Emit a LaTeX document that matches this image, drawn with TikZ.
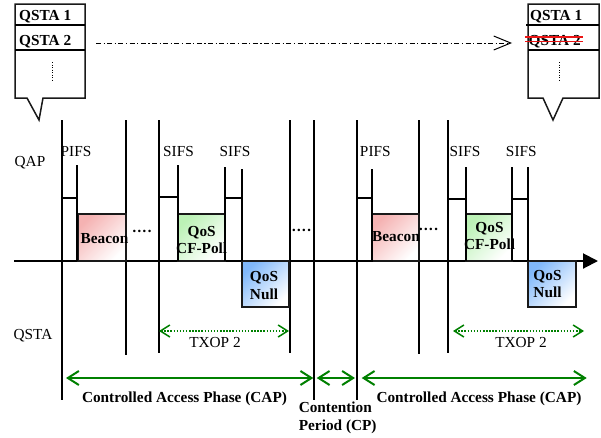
\documentclass[tikz,border=0pt]{standalone}
\usepackage{fontspec}
\setmainfont{Liberation Serif}
\usetikzlibrary{arrows.meta}
\definecolor{capgreen}{RGB}{0,128,0}
\definecolor{beaconred}{RGB}{245,178,178}
\definecolor{pollgreen}{RGB}{188,242,182}
\definecolor{nullblue}{RGB}{128,184,250}
\definecolor{strikered}{RGB}{235,20,20}
\begin{document}
\begin{tikzpicture}[x=1pt,y=-1pt,
  font=\fontsize{15.3}{18}\selectfont,
  tl/.style={line width=1.8pt,black},
  frame/.style={draw=black!90,line width=1.5pt},
  lbl/.style={inner sep=0pt,anchor=base},
  blbl/.style={lbl,font=\fontsize{15.3}{18}\selectfont\bfseries},
  framebox/.style={frame,anchor=north west,inner sep=0pt,outer sep=0pt},
  fillred/.style={shade,top color=beaconred,bottom color=white,shading angle=45},
  fillgreen/.style={shade,top color=pollgreen,bottom color=white,shading angle=45},
  fillblue/.style={shade,top color=nullblue,bottom color=white,shading angle=45},
  phase/.style={capgreen,line width=2pt,
    {Straight Barb[length=11pt,width=14pt]}-{Straight Barb[length=11pt,width=14pt]}},
  txop/.style={capgreen,line width=1.5pt,dash pattern=on 1.5pt off 1.6pt,
    {Straight Barb[length=9.5pt,width=12pt]}-{Straight Barb[length=9.5pt,width=12pt]}},
  tick/.style={line width=1.8pt,black},
]
\useasboundingbox (0,0) rectangle (601,437);
\fill[white] (0,0) rectangle (601,437);

% ---------- station tables (callouts) ----------
\draw[frame] (15,4) -- (85,4) -- (85,98) -- (43,98) -- (39,120) -- (27,98) -- (15,98) -- cycle;
\draw[line width=1.3pt] (15,25) -- (85,25);
\draw[line width=2pt] (15,50) -- (85,50);
\node[blbl,anchor=base west] (qa1) at (19,20) {QSTA 1};
\node[blbl,anchor=base west] (qa2) at (19,45) {QSTA 2};
\draw[line width=1pt,dash pattern=on 1pt off 1.5pt] (52,62) -- (52,82);

\draw[frame] (528,4) -- (599,4) -- (599,98) -- (563,98) -- (553,120) -- (543,98) -- (528,98) -- cycle;
\draw[line width=1.3pt] (526,25) -- (599,25);
\draw[line width=2pt] (528,50) -- (599,50);
\node[blbl,anchor=base west] (qb1) at (530,20) {QSTA 1};
\node[blbl,anchor=base west] (qb2) at (528.5,45) {QSTA 2};
\draw[strikered,line width=1.5pt] (525,37.2) -- (583,37.2);
\draw[strikered,line width=1.5pt] (525,41.4) -- (583,41.4);
\draw[line width=1pt,dash pattern=on 1pt off 1.5pt] (559,62) -- (559,82);

\coordinate (fwd-s) at (96,43);
\coordinate (fwd-e) at (512,43);
\draw[line width=0.9pt,dash pattern=on 5pt off 2.5pt on 1.2pt off 2.5pt,
  -{Straight Barb[length=17pt,width=14pt,line width=1pt]}] (fwd-s) -- (fwd-e);

% ---------- row labels ----------
\node[lbl] (qap) at (30,166) {QAP};
\node[lbl] (qsta) at (33,339) {QSTA};

% ---------- time axis ----------
\coordinate (ax-s) at (14,261);
\coordinate (ax-e) at (598,261);
\draw[line width=2pt,-{Triangle[length=15pt,width=15pt]}] (ax-s) -- (ax-e);

% ---------- long boundary lines ----------
\foreach \x/\yb in {62/400,126/355,159/353,290/353,314/400,357/400,419/354,448/353}
  \draw[tl] (\x,120) -- (\x,\yb);

% ---------- frames ----------
\node[framebox,fillred,minimum width=48pt,minimum height=47pt] (bcn1) at (78,214) {};
\node[framebox,fillgreen,minimum width=47pt,minimum height=47pt] (poll1) at (178,214) {};
\node[framebox,fillblue,minimum width=47pt,minimum height=46pt] (null1) at (242,261) {};
\node[framebox,fillred,minimum width=47pt,minimum height=47pt] (bcn2) at (372,214) {};
\node[framebox,fillgreen,minimum width=46pt,minimum height=47pt] (poll2) at (466,214) {};
\node[framebox,fillblue,minimum width=48pt,minimum height=46pt] (null2) at (528,261) {};

% ---------- interframe spaces ----------
\draw[tick] (62,198) -- (77,198) (77,165) -- (77,261);
\draw[tick] (159,197) -- (178,197) (178,165) -- (178,261);
\draw[tick] (225,167) -- (225,261) (225,198) -- (242,198) (242,169) -- (242,261);
\draw[tick] (357,198) -- (372,198) (372,169) -- (372,262);
\draw[tick] (448,199) -- (466,199) (466,167) -- (466,261);
\draw[tick] (512,167) -- (512,261) (512,199) -- (528,199) (528,167) -- (528,261);

\node[lbl] (pifs1) at (76,156) {PIFS};
\node[lbl] (sifs1) at (178.5,156) {SIFS};
\node[lbl] (sifs2) at (235,156) {SIFS};
\node[lbl] (pifs2) at (375.3,156) {PIFS};
\node[lbl] (sifs3) at (465,156) {SIFS};
\node[lbl] (sifs4) at (521.3,156) {SIFS};

% ---------- frame labels ----------
\node[blbl] (tb1) at (104.5,243.3) {Beacon};
\node[blbl] (tp1a) at (201.7,236.7) {QoS};
\node[blbl] (tp1b) at (201.7,253.3) {CF-Poll};
\node[blbl] (tn1a) at (264,281) {QoS};
\node[blbl] (tn1b) at (264,299) {Null};
\node[blbl] (tb2) at (396,241.7) {Beacon};
\node[blbl] (tp2a) at (489.5,232) {QoS};
\node[blbl] (tp2b) at (489.5,249) {CF-Poll};
\node[blbl] (tn2a) at (547.5,280) {QoS};
\node[blbl] (tn2b) at (547.5,297.7) {Null};

\node[blbl] (dots1) at (142,236.8) {····};
\node[blbl] (dots2) at (301.5,235.8) {····};
\node[blbl] (dots3) at (428.5,234.8) {····};

% ---------- TXOP spans ----------
\coordinate (tx1-s) at (159,331);
\coordinate (tx1-e) at (289,331);
\coordinate (tx2-s) at (453,331);
\coordinate (tx2-e) at (584,331);
\draw[txop] (tx1-s) -- (tx1-e);
\draw[txop] (tx2-s) -- (tx2-e);
\node[lbl] (txl1) at (215,347.7) {TXOP 2};
\node[lbl] (txl2) at (521,347.7) {TXOP 2};

% ---------- phases ----------
\coordinate (cap1-s) at (66,378);
\coordinate (cap1-e) at (313.3,378);
\coordinate (cp-s) at (316.7,378);
\coordinate (cp-e) at (355,378);
\coordinate (cap2-s) at (361.7,378);
\coordinate (cap2-e) at (586.7,378);
\draw[phase] (cap1-s) -- (cap1-e);
\draw[phase] (cp-s) -- (cp-e);
\draw[phase] (cap2-s) -- (cap2-e);
\node[blbl] (capl1) at (184.5,402.7) {Controlled Access Phase (CAP)};
\node[blbl] (capl2) at (479,402.7) {Controlled Access Phase (CAP)};
\node[blbl] (cpl1) at (335.3,412.3) {Contention};
\node[blbl] (cpl2) at (337.7,430) {Period (CP)};
\end{tikzpicture}
\end{document}
